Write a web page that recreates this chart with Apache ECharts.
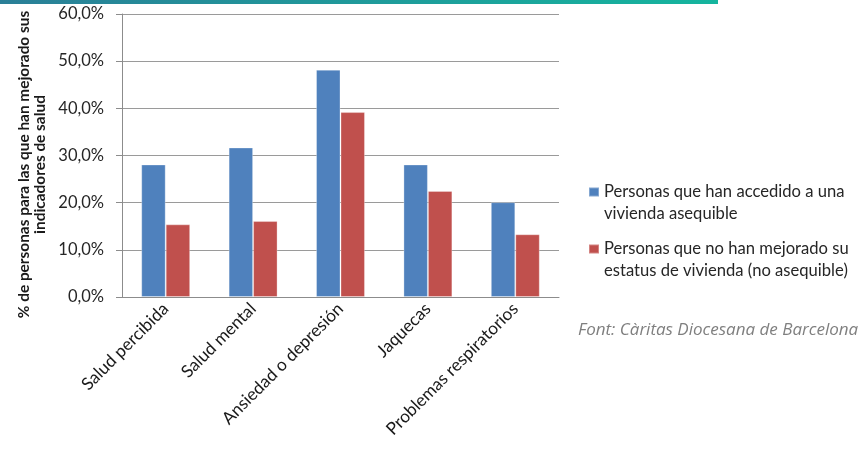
<!DOCTYPE html>
<html>
<head>
<meta charset="utf-8">
<script src="https://cdn.jsdelivr.net/npm/echarts@6/dist/echarts.min.js"></script>
<style>html,body{margin:0;padding:0;background:#fff;}#c{width:862px;height:451px;}</style>
</head>
<body>
<div id="c"></div>
<script>
var categories = ['Salud percibida', 'Salud mental', 'Ansiedad o depresión', 'Jaquecas', 'Problemas respiratorios'];
var seriesNames = ['Personas que han accedido a una vivienda asequible', 'Personas que no han mejorado su estatus de vivienda (no asequible)'];
var legendLines = [['Personas que han accedido a una', 'vivienda asequible'], ['Personas que no han mejorado su', 'estatus de vivienda (no asequible)']];
var asequible = [28.1, 31.7, 48.2, 28.1, 20.1];
var noAsequible = [15.4, 16.1, 39.2, 22.5, 13.3];
var yTicks = [0, 10, 20, 30, 40, 50, 60];
var yAxisTitle = '% de personas para las que han mejorado sus\nindicadores de salud';
var sourceNote = 'Font: Càritas Diocesana de Barcelona';

var FONT = 'Lato';
var chart = echarts.init(document.getElementById('c'));
function legendFor(i, top) {
  return {
    data: [seriesNames[i]],
    orient: 'vertical',
    left: 588,
    top: top,
    padding: 0,
    itemWidth: 10,
    itemHeight: 9,
    itemGap: 0,
    icon: 'rect',
    formatter: function () { return ' \n' + legendLines[i][0] + '\n' + legendLines[i][1]; },
    textStyle: { fontFamily: FONT, fontSize: 16.6, color: '#262626', lineHeight: 22 }
  };
}
chart.setOption({
  animation: false,
  title: {
    text: sourceNote,
    left: 578,
    top: 322,
    padding: 0,
    textStyle: { fontFamily: 'Open Sans', fontSize: 17, fontStyle: 'italic', fontWeight: 'normal', color: '#7f7f7f' }
  },
  graphic: [{
    type: 'rect',
    shape: { x: 0, y: 0, width: 718, height: 4 },
    style: {
      fill: new echarts.graphic.LinearGradient(0, 0, 1, 0, [
        { offset: 0, color: '#2a7f97' },
        { offset: 1, color: '#15b59e' }
      ])
    },
    silent: true
  }],
  legend: [legendFor(0, 159), legendFor(1, 216)],
  grid: { left: 122, right: 303, top: 14, bottom: 154, containLabel: false, outerBoundsMode: 'none' },
  xAxis: {
    type: 'category',
    data: categories,
    axisLine: { show: true, lineStyle: { color: '#8c8c8c', width: 1 } },
    axisTick: { show: false },
    axisLabel: { interval: 0, rotate: 45, margin: 9, fontFamily: FONT, fontSize: 17.3, color: '#1a1a1a' }
  },
  yAxis: {
    type: 'value',
    min: 0,
    max: 60,
    interval: 10,
    name: yAxisTitle,
    nameLocation: 'middle',
    nameRotate: 90,
    nameGap: 73,
    nameTextStyle: { fontFamily: FONT, fontSize: 15.4, fontWeight: 'bold', color: '#1a1a1a', lineHeight: 15.5, padding: [0, 18, 0, 0] },
    axisLine: { show: true, lineStyle: { color: '#8c8c8c', width: 1 } },
    axisTick: { show: true, inside: false, length: 6, lineStyle: { color: '#8c8c8c' } },
    splitLine: { show: true, lineStyle: { color: '#9a9a9a', width: 1 } },
    axisLabel: {
      margin: 18,
      fontFamily: FONT,
      fontSize: 16.5,
      color: '#262626',
      formatter: function (v) { return v.toFixed(1).replace('.', ',') + '%'; }
    }
  },
  series: [
    { name: seriesNames[0], type: 'bar', data: asequible, barGap: '0%', barCategoryGap: '44%', itemStyle: { color: '#4f81bd', borderColor: 'rgba(255,255,255,0.3)', borderWidth: 1 } },
    { name: seriesNames[1], type: 'bar', data: noAsequible, barGap: '0%', barCategoryGap: '44%', itemStyle: { color: '#c0504d', borderColor: 'rgba(255,255,255,0.3)', borderWidth: 1 } }
  ]
});
</script>
</body>
</html>
